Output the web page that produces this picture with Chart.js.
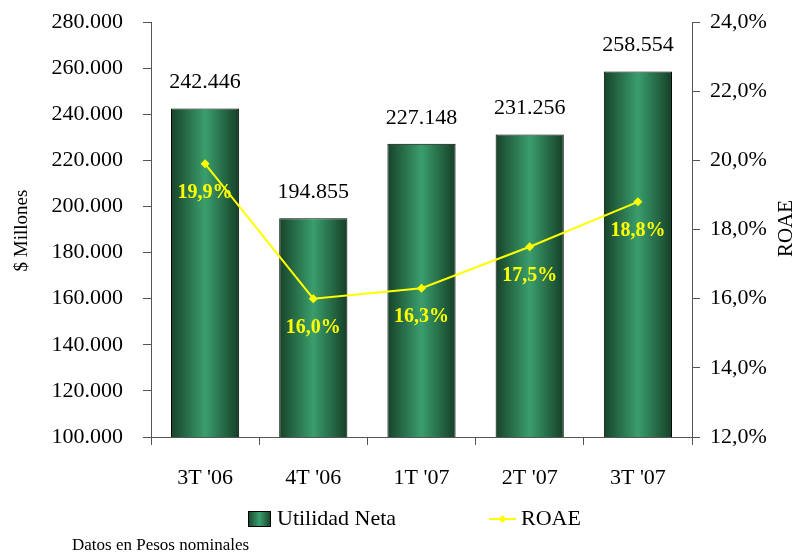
<!DOCTYPE html>
<html>
<head>
<meta charset="utf-8">
<script src="https://cdn.jsdelivr.net/npm/chart.js@4.4.1/dist/chart.umd.min.js"></script>
<style>
  html, body { margin: 0; padding: 0; background: #fff; }
  #wrap { position: relative; width: 798px; height: 552px; }
</style>
</head>
<body>
<div id="wrap"><canvas id="grafico" width="798" height="552"></canvas></div>
<script>
// Datos del gráfico
const trimestres = ["3T '06", "4T '06", "1T '07", "2T '07", "3T '07"];
const utilidadNeta = [242446, 194855, 227148, 231256, 258554];
const roae = [19.9, 16.0, 16.3, 17.5, 18.8];
const ticksMillones = [100000, 120000, 140000, 160000, 180000, 200000, 220000, 240000, 260000, 280000];
const ticksRoae = [12, 14, 16, 18, 20, 22, 24];

const FUENTE = "'Liberation Serif', 'Times New Roman', serif";
const GRIS = '#555';
const AMARILLO = '#ffff00';
const ANCHO_BARRA = 0.63;

/**
 * Formato con punto de miles: 242446 -> "242.446"
 */
function miles(v) {
  return String(Math.round(v)).replace(/\B(?=(\d{3})+(?!\d))/g, '.');
}

function pct(v) {
  return v.toFixed(1).replace('.', ',') + '%';
}

/**
 * Degradado horizontal oscuro-claro-oscuro para cada barra.
 */
function degradadoBarra(ctx, x0, x1) {
  const g = ctx.createLinearGradient(x0, 0, x1, 0);
  g.addColorStop(0, '#174329');
  g.addColorStop(0.5, '#3a9e6c');
  g.addColorStop(1, '#153f27');
  return g;
}

function colorBarra(context) {
  const chart = context.chart;
  const area = chart.chartArea;
  if (!area || context.dataIndex === undefined) return '#2e7d52';
  const x = chart.scales.x;
  const centro = x.getPixelForValue(context.dataIndex);
  const media = (area.width / trimestres.length) * ANCHO_BARRA / 2;
  return degradadoBarra(chart.ctx, centro - media, centro + media);
}

// Ajuste fijo del ancho de los ejes verticales (sin relleno extra arriba/abajo)
function fijarAncho(ancho) {
  return scale => {
    scale.width = ancho;
    scale.paddingTop = 0;
    scale.paddingBottom = 0;
  };
}

// Etiquetas de valores, títulos de ejes, leyenda y nota al pie
const pluginTextos = {
  id: 'textos',
  afterDatasetsDraw(chart) {
    const ctx = chart.ctx;
    const area = chart.chartArea;
    ctx.save();

    // valores sobre las barras
    const metaBarras = chart.getDatasetMeta(0);
    ctx.font = '22px ' + FUENTE;
    ctx.fillStyle = '#000';
    ctx.textAlign = 'center';
    ctx.textBaseline = 'middle';
    metaBarras.data.forEach((bar, i) => {
      ctx.fillText(miles(utilidadNeta[i]), bar.x, bar.y - 26);
    });

    // porcentajes bajo los puntos
    const metaLinea = chart.getDatasetMeta(1);
    ctx.font = 'bold 20px ' + FUENTE;
    ctx.fillStyle = AMARILLO;
    metaLinea.data.forEach((pt, i) => {
      ctx.fillText(pct(roae[i]), pt.x, pt.y + 29);
    });

    // títulos de ejes
    const medioY = (area.top + area.bottom) / 2;
    ctx.fillStyle = '#000';
    ctx.font = '19px ' + FUENTE;
    ctx.save();
    ctx.translate(22, medioY + 1);
    ctx.rotate(-Math.PI / 2);
    ctx.fillText('$ Millones', 0, 0);
    ctx.restore();
    ctx.font = '21px ' + FUENTE;
    ctx.save();
    ctx.translate(786, medioY - 1);
    ctx.rotate(-Math.PI / 2);
    ctx.fillText('ROAE', 0, 0);
    ctx.restore();

    // leyenda
    const yLeyenda = 519;
    ctx.fillStyle = degradadoBarra(ctx, 248, 271);
    ctx.fillRect(248, yLeyenda - 8, 23, 16);
    ctx.strokeStyle = '#000';
    ctx.lineWidth = 1;
    ctx.strokeRect(248.5, yLeyenda - 7.5, 22, 15);
    ctx.fillStyle = '#000';
    ctx.font = '22px ' + FUENTE;
    ctx.textAlign = 'left';
    ctx.fillText('Utilidad Neta', 277, yLeyenda);

    ctx.strokeStyle = AMARILLO;
    ctx.lineWidth = 2;
    ctx.beginPath();
    ctx.moveTo(489, yLeyenda);
    ctx.lineTo(516, yLeyenda);
    ctx.stroke();
    ctx.fillStyle = AMARILLO;
    ctx.beginPath();
    ctx.moveTo(502.5, yLeyenda - 4);
    ctx.lineTo(506.5, yLeyenda);
    ctx.lineTo(502.5, yLeyenda + 4);
    ctx.lineTo(498.5, yLeyenda);
    ctx.closePath();
    ctx.fill();
    ctx.fillStyle = '#000';
    ctx.fillText('ROAE', 521, yLeyenda);

    // nota al pie
    ctx.font = '17px ' + FUENTE;
    ctx.fillText('Datos en Pesos nominales', 72, 546);

    ctx.restore();
  }
};

new Chart(document.getElementById('grafico'), {
  type: 'bar',
  data: {
    labels: trimestres,
    datasets: [
      {
        type: 'bar',
        label: 'Utilidad Neta',
        data: utilidadNeta,
        yAxisID: 'y',
        backgroundColor: colorBarra,
        borderColor: '#000',
        borderWidth: 1,
        categoryPercentage: 1,
        barPercentage: ANCHO_BARRA,
        order: 1,
      },
      {
        type: 'line',
        label: 'ROAE',
        data: roae,
        yAxisID: 'y1',
        borderColor: AMARILLO,
        backgroundColor: AMARILLO,
        borderWidth: 2,
        pointStyle: 'rectRot',
        pointRadius: 4.5,
        pointBorderWidth: 0,
        tension: 0,
        order: 0,
      },
    ],
  },
  options: {
    responsive: false,
    animation: false,
    layout: { padding: { top: 22, bottom: 52, left: 0, right: 0 } },
    plugins: {
      legend: { display: false },
      tooltip: { enabled: false },
    },
    scales: {
      x: {
        afterFit(scale) { scale.height = 63; },
        grid: { drawOnChartArea: false, drawTicks: true, tickLength: 8, color: GRIS },
        border: { color: GRIS },
        ticks: { color: '#000', font: { family: FUENTE, size: 22 }, padding: 20 },
      },
      y: {
        position: 'left',
        min: 100000,
        max: 280000,
        afterFit: fijarAncho(151),
        afterBuildTicks(scale) { scale.ticks = ticksMillones.map(v => ({ value: v })); },
        grid: { drawOnChartArea: false, drawTicks: true, tickLength: 8, color: GRIS },
        border: { color: GRIS },
        ticks: {
          color: '#000',
          font: { family: FUENTE, size: 22 },
          padding: 20,
          callback: v => miles(v),
        },
      },
      y1: {
        position: 'right',
        min: 12,
        max: 24,
        afterFit: fijarAncho(106),
        afterBuildTicks(scale) { scale.ticks = ticksRoae.map(v => ({ value: v })); },
        grid: { drawOnChartArea: false, drawTicks: true, tickLength: 8, color: GRIS },
        border: { color: GRIS },
        ticks: {
          color: '#000',
          font: { family: FUENTE, size: 22 },
          padding: 10,
          callback: v => pct(v),
        },
      },
    },
  },
  plugins: [pluginTextos],
});
</script>
</body>
</html>
